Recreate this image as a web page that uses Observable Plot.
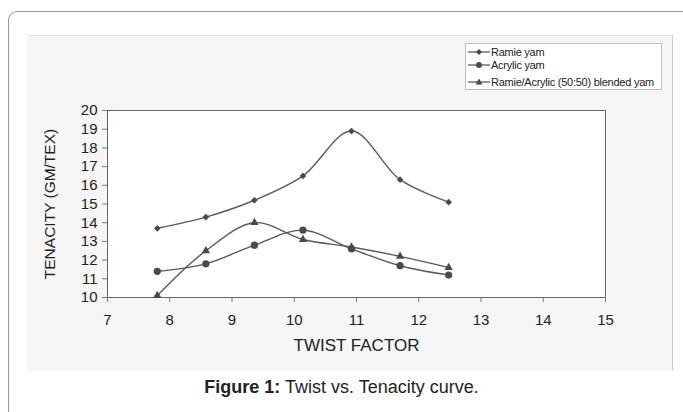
<!DOCTYPE html>
<html>
<head>
<meta charset="utf-8">
<script src="https://cdn.jsdelivr.net/npm/d3@7"></script>
<script src="https://cdn.jsdelivr.net/npm/@observablehq/plot@0.6"></script>
<style>
  html, body { margin:0; padding:0; background:#fff; }
  body { width:683px; height:412px; position:relative; overflow:hidden; font-family:"Liberation Sans", Arial, sans-serif; }
  #border { position:absolute; left:8px; top:11px; width:700px; height:420px; border:1px solid #9a9a9a; border-radius:9px; box-sizing:border-box; }
  #scan { position:absolute; left:27px; top:35px; width:645px; height:335px; background:#f6f6f6; border-right:1px solid #cfcfcf; border-top:1px solid #e4e4e4; }
  #chart { position:absolute; left:0; top:0; }
  #legend { position:absolute; left:465px; top:43px; width:197px; height:47px; border:1px solid #bdbdbd; background:#fff; box-sizing:border-box; font-size:11px; letter-spacing:-0.25px; color:#222; }
  #legend .row { position:absolute; left:0; height:14px; display:flex; align-items:center; white-space:nowrap; }
  #legend svg { margin-left:2px; margin-right:1px; }
  #caption { position:absolute; left:0; width:683px; top:377px; text-align:center; font-size:18px; color:#222; }
</style>
</head>
<body>
<div id="border"></div>
<div id="scan"></div>
<div id="chart"></div>
<div id="legend"></div>
<div id="caption"><b>Figure 1:</b> Twist vs. Tenacity curve.</div>
<script>
const twistFactor = [7.8, 8.58, 9.36, 10.14, 10.92, 11.7, 12.48];
const ramie   = [13.7, 14.3, 15.2, 16.5, 18.9, 16.3, 15.1];
const acrylic = [11.4, 11.8, 12.8, 13.6, 12.6, 11.7, 11.2];
const blended = [10.1, 12.5, 14.0, 13.1, 12.7, 12.2, 11.6];
const seriesNames = ["Ramie yam", "Acrylic yam", "Ramie/Acrylic (50:50) blended yam"];
const seriesSymbols = ["diamond2", "circle", "triangle2"];
const seriesR = [3, 3.6, 4];
const xTicks = [7, 8, 9, 10, 11, 12, 13, 14, 15];
const yTicks = [10, 11, 12, 13, 14, 15, 16, 17, 18, 19, 20];

const seriesValues = [ramie, acrylic, blended];
const data = [];
seriesValues.forEach((vals, s) => vals.forEach((v, i) => data.push({series: seriesNames[s], x: twistFactor[i], y: v, s})));

const lineColor = "#5a5a5a";
const marks = [
  Plot.frame({fill: "white", stroke: "#666", strokeWidth: 1}),
  Plot.axisX({ticks: xTicks, tickSize: 5, tickPadding: 12, fontSize: 15, label: null, stroke: "#777"}),
  Plot.axisY({ticks: yTicks, tickSize: 5, tickPadding: 5, fontSize: 15, label: null, stroke: "#777"}),
  Plot.text(["TWIST FACTOR"], {frameAnchor: "bottom", dy: 53, fontSize: 17, fill: "#222"}),
  Plot.text(["TENACITY (GM/TEX)"], {frameAnchor: "left", textAnchor: "middle", dx: -57, rotate: -90, fontSize: 15.5, fill: "#222"})
];
seriesNames.forEach((name, s) => {
  const d = data.filter(p => p.s === s);
  marks.push(Plot.line(d, {x: "x", y: "y", curve: "catmull-rom", stroke: lineColor, strokeWidth: 1.4}));
  marks.push(Plot.dot(d, {x: "x", y: "y", symbol: () => seriesSymbols[s], r: seriesR[s], fill: "#4a4a4a", stroke: "none"}));
});

const chart = Plot.plot({
  width: 683,
  height: 365,
  marginLeft: 107,
  marginRight: 78,
  marginTop: 110,
  marginBottom: 68,
  style: {background: "transparent", fontFamily: "'Liberation Sans', Arial, sans-serif", color: "#222"},
  x: {domain: [7, 15]},
  y: {domain: [10, 20]},
  symbol: {type: "identity"},
  marks
});
document.getElementById("chart").append(chart);

// legend
const legend = document.getElementById("legend");
const rowTops = [1, 14, 31];
const symPaths = {
  diamond2: "M11,-3 L14,0 L11,3 L8,0 Z",
  triangle2: "M11,-3.5 L14.5,2.5 L7.5,2.5 Z"
};
seriesNames.forEach((name, s) => {
  const row = document.createElement("div");
  row.className = "row";
  row.style.top = rowTops[s] + "px";
  let sym;
  if (seriesSymbols[s] === "circle") sym = `<circle cx="11" cy="0" r="3" fill="#4a4a4a"/>`;
  else sym = `<path d="${symPaths[seriesSymbols[s]]}" fill="#4a4a4a"/>`;
  row.innerHTML = `<svg width="22" height="10" viewBox="0 -5 22 10"><line x1="0" x2="22" y1="0" y2="0" stroke="${lineColor}" stroke-width="1.3"/>${sym}</svg><span>${name}</span>`;
  legend.append(row);
});
</script>
</body>
</html>
